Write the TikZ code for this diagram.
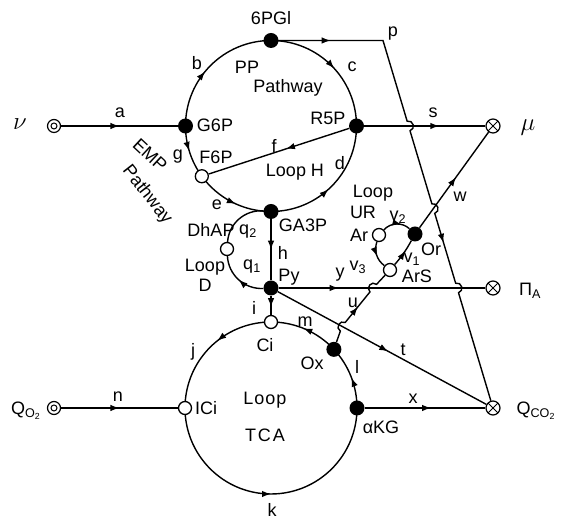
\documentclass[tikz,border=0pt]{standalone}
\usepackage{fontspec}
\setmainfont{Liberation Sans}
\usetikzlibrary{arrows.meta,decorations.markings,calc,intersections}
\tikzset{
 conn/.style={line width=1.4pt},
 fnode/.style={circle,fill=black,inner sep=0pt,minimum size=15pt},
 onode/.style={circle,draw,fill=white,line width=1.3pt,inner sep=0pt,minimum size=13pt},
 srcnode/.style={circle,draw,fill=white,line width=1.2pt,inner sep=0pt,minimum size=13pt,
   path picture={\draw[line width=1pt] (path picture bounding box.center) circle (3pt);}},
 sinknode/.style={circle,draw,fill=white,line width=1.2pt,inner sep=0pt,minimum size=14pt,
   path picture={\draw[line width=1pt] (path picture bounding box.north west)--(path picture bounding box.south east)
     (path picture bounding box.north east)--(path picture bounding box.south west);}},
 lbl/.style={inner sep=1pt,font=\fontsize{18}{20}\selectfont},
 arrowat/.style={postaction={decorate},decoration={markings,mark=at position #1 with {\arrow{Latex[length=9pt,width=6.5pt]}}}},
 hopto/.style={bend left=90,looseness=1.6},
}
\begin{document}
\begin{tikzpicture}[x=1pt,y=1pt]
\useasboundingbox (0,0) rectangle (563,521);
\coordinate (PPc) at (271,395);
\coordinate (TCc) at (271,113);
% arcs of PP pathway
\draw[conn,arrowat=0.44] ($(PPc)+(180:85.5)$) arc[start angle=180,end angle=90,radius=85.5];   % b
\draw[conn,arrowat=0.53] ($(PPc)+(90:85.5)$) arc[start angle=90,end angle=0,radius=85.5];      % c
\draw[conn,arrowat=0.47] ($(PPc)+(180:85.5)$) arc[start angle=180,end angle=216,radius=85.5];  % g
\draw[conn,arrowat=0.55] ($(PPc)+(216:85.5)$) arc[start angle=216,end angle=270,radius=85.5];  % e
\draw[conn,arrowat=0.47] ($(PPc)+(270:85.5)$) arc[start angle=270,end angle=360,radius=85.5];  % d
% arcs of TCA loop
\draw[conn,arrowat=0.43] ($(TCc)+(90:86)$) arc[start angle=90,end angle=180,radius=86];   % j
\draw[conn,arrowat=0.5] ($(TCc)+(180:86)$) arc[start angle=180,end angle=360,radius=86];  % k
\draw[conn,arrowat=0.48] ($(TCc)+(0:86)$) arc[start angle=0,end angle=43,radius=86];      % l
\draw[conn,arrowat=0.53] ($(TCc)+(43:86)$) arc[start angle=43,end angle=90,radius=86];    % m
% nodes
\node[fnode] (gsp) at ($(PPc)+(180:85.5)$) {};
\node[fnode] (pgl) at ($(PPc)+(90:85.5)$) {};
\node[fnode] (rsp) at ($(PPc)+(0:85.5)$) {};
\node[onode] (fsp) at ($(PPc)+(216:85.5)$) {};
\node[fnode] (gap) at ($(PPc)+(270:85.5)$) {};
\node[fnode] (py) at (271,233) {};
\node[onode] (dhap) at (227,272) {};
\node[onode] (ci) at ($(TCc)+(90:86)$) {};
\node[onode] (ici) at ($(TCc)+(180:86)$) {};
\node[fnode] (akg) at ($(TCc)+(0:86)$) {};
\node[fnode] (ox) at ($(TCc)+(43:86)$) {};
\node[onode] (ar) at (379,286) {};
\node[fnode] (ors) at (415,287) {};
\node[onode] (ars) at (390,251) {};
\node[srcnode] (nu) at (54,395) {};
\node[srcnode] (qo) at (54,113) {};
\node[sinknode] (mu) at (493,395) {};
\node[sinknode] (pia) at (493,233) {};
\node[sinknode] (qco) at (493,113) {};
\coordinate (pc) at (383,480.5);
% straight connectors
\draw[conn,arrowat=0.5] (nu) -- (gsp);                    % a
\draw[conn,arrowat=0.45] (rsp) -- (fsp);                  % f
\draw[conn,arrowat=0.5] (gap) -- (py);                    % h
\draw[conn,arrowat=0.6] (py) -- (ci);                     % i
\draw[conn,arrowat=0.5] (qo) -- (ici);                    % n
\draw[conn,arrowat=0.62,name path=sline] (rsp) -- (mu);   % s
\draw[conn,arrowat=0.55] (akg) -- (qco);                  % x
\draw[conn,arrowat=0.29,name path=yline] (py) -- (pia);   % y
\draw[conn,arrowat=0.53] (py) -- (qco);                   % t
\draw[conn,arrowat=0.53,name path=wline] (ors) -- (mu);   % w
% loop D
\draw[conn,arrowat=0.5] (py) to[bend left=45] (dhap);     % q1
\draw[conn] (dhap) to[bend left=45] (gap);                % q2
% loop UR
\draw[conn,arrowat=0.68] (ar) to[bend left=45] (ors);     % v2
\draw[conn,arrowat=0.55] (ar) to[bend right=35] (ars);    % v3
\draw[conn,arrowat=0.6] (ars) to[bend right=6] (ors);     % v1
% p with hops
\path[name path=pline] (pc) -- (qco.center);
\path[name intersections={of=pline and sline,by=X1}];
\path[name intersections={of=pline and wline,by=X2}];
\path[name intersections={of=pline and yline,by=X3}];
\draw[conn,postaction={decorate},decoration={markings,
   mark=at position 52pt with {\arrow{Latex[length=9pt,width=6.5pt]}},
   mark=at position 326pt with {\arrow{Latex[length=9pt,width=6.5pt]}}}]
  (pgl) -- (pc) -- ($(X1)!5pt!(pc)$) to[hopto] ($(X1)!5pt!(qco)$)
  -- ($(X2)!5pt!(pc)$) to[hopto] ($(X2)!5pt!(qco)$)
  -- ($(X3)!5pt!(pc)$) to[hopto] ($(X3)!5pt!(qco)$) -- (qco);
% u with hops
\coordinate (K1) at ($(py)!0.32!(qco)$);
\coordinate (K2) at ($(py)!0.46!(pia)$);
\draw[conn,arrowat=0.5] (ox) -- ($(K1)!5pt!(ox)$) to[hopto] ($(K1)!5pt!(K2)$)
  -- ($(K2)!5pt!(K1)$) to[hopto] ($(K2)!5pt!(ars)$) -- (ars);
% labels
\node[lbl] (l6pgl) at (271,503) {6PGl};
\node[lbl] (lb) at (197,458) {b};
\node[lbl] (lc) at (352,454) {c};
\node[lbl] (lpp) at (247,454) {PP};
\node[lbl] (lppw) at (288,433) {Pathway};
\node[lbl] (lgsp) at (215,396) {G6P};
\node[lbl] (lrsp) at (328,403) {R5P};
\node[lbl] (lfsp) at (216,364) {F6P};
\node[lbl] (lg) at (178,364) {g};
\node[lbl] (le) at (217,316) {e};
\node[lbl] (lf) at (274,375) {f};
\node[lbl] (ld) at (340,358) {d};
\node[lbl] (lloopH) at (295,349) {Loop H};
\node[lbl] (la) at (120,408) {a};
\node[lbl,font=\fontsize{24}{26}\selectfont] (lnu) at (20,397) {$\nu$};
\node[lbl,rotate=-43] (lemp) at (150,366) {EMP};
\node[lbl,rotate=-52] (lempw) at (147,326) {Pathway};
\node[lbl] (lgap) at (303,296) {GA3P};
\node[lbl] (lh) at (283,268) {h};
\node[lbl] (ldhap) at (211,291) {DhAP};
\node[lbl] (lq2) at (248,289) {q\textsubscript{2}};
\node[lbl] (lloopD) at (205,254) {Loop};
\node[lbl] (lD) at (205,236) {D};
\node[lbl] (lq1) at (252,254) {q\textsubscript{1}};
\node[lbl] (lpy) at (289,244) {Py};
\node[lbl] (ly) at (340,246) {y};
\node[lbl] (li) at (254,213) {i};
\node[lbl] (lci) at (265,176) {Ci};
\node[lbl] (lm) at (305,199) {m};
\node[lbl] (lu) at (353,218) {u};
\node[lbl] (lt) at (403,171) {t};
\node[lbl] (lox) at (312,158) {Ox};
\node[lbl] (ll) at (357,154) {l};
\node[lbl] (lakg) at (381,94) {αKG};
\node[lbl] (lx) at (413,122) {x};
\node[lbl] (lici) at (206,113) {ICi};
\node[lbl] (lj) at (193,169) {j};
\node[lbl] (lloopT) at (265,121) {L\kern1pt o\kern1pt o\kern1pt p};
\node[lbl] (ltca) at (265,86) {T\kern2pt C\kern2pt A};
\node[lbl] (lk) at (272,11) {k};
\node[lbl] (ln) at (118,124) {n};
\node[lbl] (ls) at (433,408) {s};
\node[lbl] (lp) at (393,487) {p};
\node[lbl] (lw) at (460,324) {w};
\node[lbl] (lloopU) at (373,328) {Loop};
\node[lbl] (lur) at (363,309) {UR};
\node[lbl] (lv2) at (398,304) {v\textsubscript{2}};
\node[lbl] (lar) at (359,286) {Ar};
\node[lbl] (lv1) at (412,262) {v\textsubscript{1}};
\node[lbl] (lv3) at (358,254) {v\textsubscript{3}};
\node[lbl] (lars) at (417,245) {ArS};
\node[lbl] (lor) at (431,272) {Or};
\node[lbl] (lqo) at (26,110) {Q\textsubscript{O\textsubscript{2}}};
\node[lbl,font=\fontsize{24}{26}\selectfont] (lmu) at (528,393) {$\mu$};
\node[lbl] (lpia) at (530,230) {Π\textsubscript{A}};
\node[lbl] (lqco) at (536,110) {Q\textsubscript{CO\textsubscript{2}}};
\end{tikzpicture}
\end{document}
